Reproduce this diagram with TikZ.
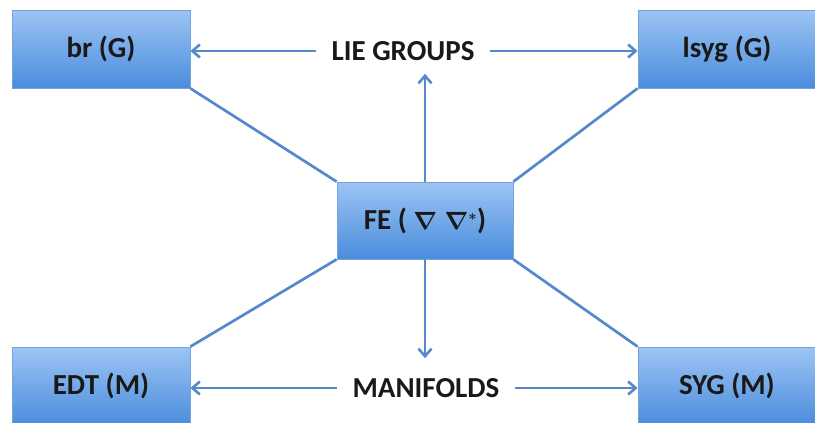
\documentclass[tikz,border=0pt]{standalone}
\usepackage{fontspec}
\setmainfont{Carlito}
\usetikzlibrary{arrows.meta}

\definecolor{boxtop}{HTML}{9DC4F4}
\definecolor{boxbot}{HTML}{4A8DDC}
\definecolor{boxline}{HTML}{74A3DD}
\definecolor{link}{HTML}{5589CB}

\newcommand{\nablapair}{{\boldmath$\nabla\hspace{0.25em}\nabla^{\scriptscriptstyle *}$}}

\begin{document}
\begin{tikzpicture}[
  x=1pt, y=-1pt,
  font=\fontsize{29}{34}\selectfont\bfseries,
  box/.style={draw=boxline, line width=0.8pt, top color=boxtop, bottom color=boxbot,
    minimum width=178pt, minimum height=78pt, inner sep=0pt, text=black!90},
  label/.style={text=black!90, inner xsep=15pt},
  arr/.style={-{Straight Barb[length=7.5pt, width=13pt, line width=2.6pt]}, link, line width=2.7pt},
  wire/.style={link, line width=2.7pt}
]
\useasboundingbox (0,0) rectangle (815,423);

% corner boxes
\node[box] (br)   at (101,49)  {br (G)};
\node[box] (lsyg) at (727,49)  {lsyg (G)};
\node[box] (edt)  at (101,386) {EDT (M)};
\node[box] (syg)  at (727,386) {SYG (M)};

% centre box
\node[box, minimum width=176pt, minimum height=77pt] (fe) at (425,220.5)
  {FE ( \nablapair)};

% the two labels
\node[label, inner ysep=13pt] (lie)  at (403,51)  {LIE GROUPS};
\node[label, inner ysep=20pt] (mani) at (426,388) {MANIFOLDS};

% diagonals
\draw[wire] (br.south east)   -- (fe.north west);
\draw[wire] (lsyg.south west) -- (fe.north east);
\draw[wire] (edt.north east)  -- (fe.south west);
\draw[wire] (syg.north west)  -- (fe.south east);

% arrows
\draw[arr] (lie.west)  -- (lie.west -| br.east);
\draw[arr] (lie.east)  -- (lie.east -| lsyg.west);
\draw[arr] (mani.west) -- (mani.west -| edt.east);
\draw[arr] (mani.east) -- (mani.east -| syg.west);
\draw[arr] (fe.north)  -- (fe.north |- lie.south);
\draw[arr] (fe.south)  -- (fe.south |- mani.north);

\end{tikzpicture}
\end{document}
